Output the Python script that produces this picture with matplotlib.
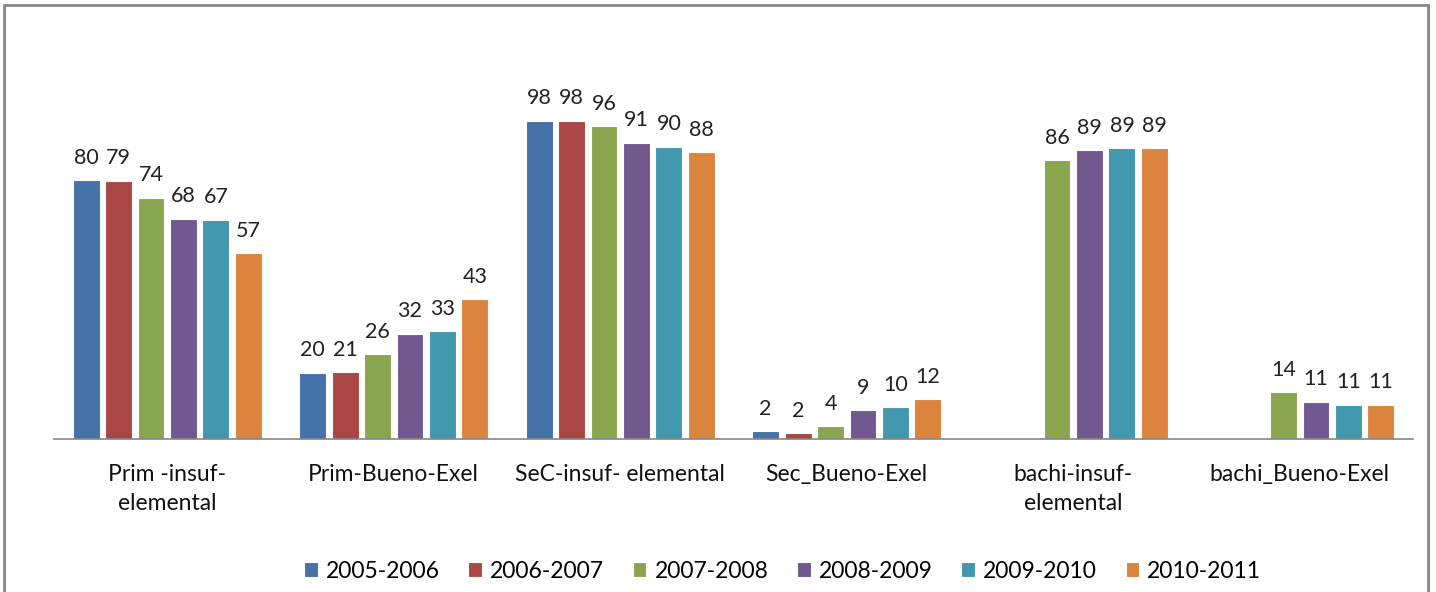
import numpy as np
import matplotlib
matplotlib.use("Agg")
import matplotlib.pyplot as plt
from matplotlib.patches import Rectangle

# datos
categorias = ["Prim -insuf-\nelemental", "Prim-Bueno-Exel", "SeC-insuf- elemental",
              "Sec_Bueno-Exel", "bachi-insuf-\nelemental", "bachi_Bueno-Exel"]
series = ["2005-2006", "2006-2007", "2007-2008", "2008-2009", "2009-2010", "2010-2011"]
v2005 = [79.6, 20.4, 98.0, 2.4, None, None]
v2006 = [79.4, 20.6, 98.0, 1.8, None, None]
v2007 = [74.2, 26.1, 96.2, 4.0, 85.7, 14.4]
v2008 = [67.8, 32.4, 91.2, 8.9, 88.8, 11.4]
v2009 = [67.4, 33.2, 90.0, 9.8, 89.4, 10.6]
v2010 = [57.2, 43.0, 88.2, 12.3, 89.4, 10.6]
valores = [v2005, v2006, v2007, v2008, v2009, v2010]
colores = ["#4572A7", "#AA4643", "#89A54E", "#71588F", "#4198AF", "#DB843D"]

plt.rcParams["font.family"] = ["Lato", "DejaVu Sans"]

fig = plt.figure(figsize=(14.36, 5.92), dpi=100)
ax = fig.add_axes([54 / 1436, 1 - 439 / 592, 1359 / 1436, 390 / 592])

x = np.arange(len(categorias))
paso = 0.1434
ancho = 0.119
for i, (nombre, vals, c) in enumerate(zip(series, valores, colores)):
    xs = [xi + (i - 2.5) * paso for xi, v in zip(x, vals) if v is not None]
    ys = [v for v in vals if v is not None]
    barras = ax.bar(xs, ys, width=ancho, color=c, edgecolor="white", linewidth=0.8, label=nombre)
    ax.bar_label(barras, labels=["%.0f" % v for v in ys], padding=9, fontsize=15.5, color="#222222")

ax.set_xlim(-0.5, len(categorias) - 0.5)
ax.set_ylim(0, 120)
ax.set_xticks(x)
ax.set_xticklabels(categorias, fontsize=16.5, color="#111111", linespacing=1.45)
ax.tick_params(axis="x", length=0, pad=18)
ax.set_yticks([])
for lado in ["left", "right", "top"]:
    ax.spines[lado].set_visible(False)
ax.spines["bottom"].set_color("#868686")
ax.spines["bottom"].set_linewidth(1.2)

fig.legend(loc="center", bbox_to_anchor=(0.545, 1 - 571 / 592), ncol=6, frameon=False,
           fontsize=16.5, handlelength=0.6, handleheight=0.6, handletextpad=0.35, columnspacing=1.25)

# borde del grafico
fig.patches.append(Rectangle((4 / 1436, -0.05), 1424 / 1436, 1.05 - 5 / 592, transform=fig.transFigure,
                             fill=False, edgecolor="#868686", linewidth=2))

fig.savefig("out.png", dpi=100)
